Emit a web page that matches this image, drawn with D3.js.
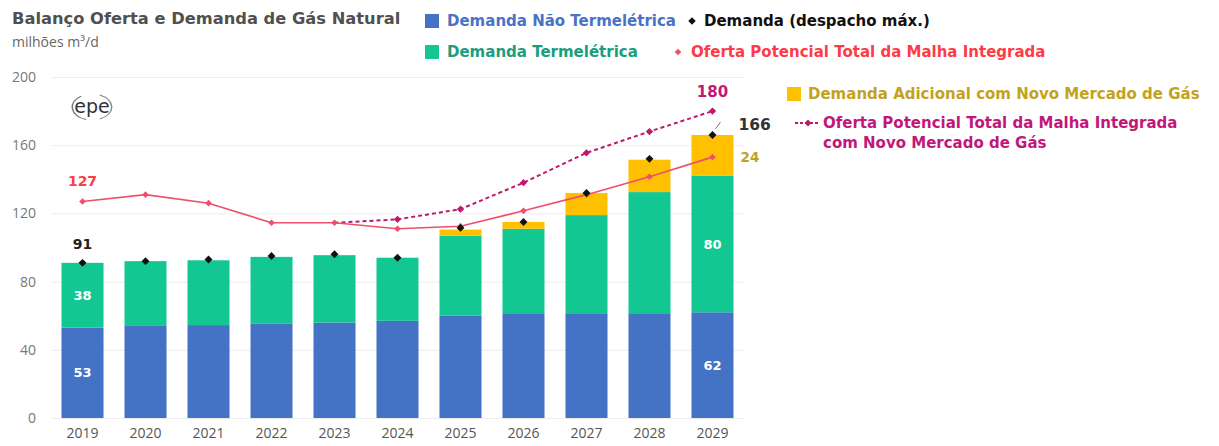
<!DOCTYPE html>
<html><head><meta charset="utf-8">
<script src="https://cdn.jsdelivr.net/npm/d3@7"></script>
<style>
html,body{margin:0;padding:0;background:#fff;}
svg{display:block;}
</style></head>
<body>
<svg id="chart" width="1219" height="446"></svg>
<script>
const years = ["2019","2020","2021","2022","2023","2024","2025","2026","2027","2028","2029"];
const naoTermeletrica = [53, 54, 54.5, 55.5, 56, 57, 60, 61, 61, 61, 62];
const termeletrica = [38, 38, 38, 39, 39.5, 37, 47, 50, 58, 71.5, 80];
const adicional = [0, 0, 0, 0, 0, 0, 3.5, 4, 13, 19, 24];
const demandaMax = [91, 92, 93, 95, 96, 94, 111.5, 115, 132, 152, 166];
const ofertaTotal = [127, 131, 126, 114.5, 114.5, 111, 112.5, 121.5, 131, 141.5, 153];
const ofertaNovoMercado = [null, null, null, null, 114.5, 116.5, 122.5, 138, 155.5, 168, 180];
const yTicks = [0, 40, 80, 120, 160, 200];

const C = {
  blue: "#4472c4", green: "#12c791", yellow: "#ffc000",
  red: "#ee4f6a", pink: "#c0186e", black: "#111",
  blueTxt: "#4a72c6", greenTxt: "#1a9e7c", redTxt: "#ff3b45",
  goldTxt: "#c4a21c", pinkTxt: "#c2177a", grey: "#555"
};
const boldFont = "'DejaVu Sans', Verdana, sans-serif";
const lightFont = "'Open Sans', 'DejaVu Sans', sans-serif";

const svg = d3.select("#chart");
const x = d3.scaleBand().domain(years).range([51, 744]).paddingInner(0.333).paddingOuter(0.1667);
const y = d3.scaleLinear().domain([0, 200]).range([418, 77]);
const cx = d => x(d) + x.bandwidth() / 2;

// gridlines
svg.append("g").selectAll("line").data(yTicks).join("line")
  .attr("x1", 52).attr("x2", 745)
  .attr("y1", d => y(d) + 0.5).attr("y2", d => y(d) + 0.5)
  .attr("stroke", "#ececec").attr("stroke-width", 1);

// y axis labels
const yAxis = svg.append("g").attr("transform", "translate(36,0)")
  .call(d3.axisLeft(y).tickValues(yTicks).tickSize(0).tickPadding(0));
yAxis.select(".domain").remove();
yAxis.selectAll("text").attr("font-family", lightFont).attr("font-size", 14).attr("fill", "#777");

// x axis labels
const xAxis = svg.append("g").attr("transform", "translate(0,428)")
  .call(d3.axisBottom(x).tickSize(0).tickPadding(0));
xAxis.select(".domain").remove();
xAxis.selectAll("text").attr("font-family", lightFont).attr("font-size", 14).attr("fill", "#555").attr("dy", "0.71em");

// stacked bars
const rows = years.map((yr, i) => ({year: yr, nao: naoTermeletrica[i], term: termeletrica[i], adic: adicional[i]}));
const stack = d3.stack().keys(["nao", "term", "adic"])(rows);
const colors = {nao: C.blue, term: C.green, adic: C.yellow};
svg.append("g").selectAll("g").data(stack).join("g")
  .attr("fill", s => colors[s.key])
  .selectAll("rect").data(s => s.filter(d => d[1] - d[0] > 0)).join("rect")
  .attr("x", d => x(d.data.year)).attr("width", x.bandwidth())
  .attr("y", d => y(d[1])).attr("height", d => y(d[0]) - y(d[1]));

// lines
const line = d3.line().defined(d => d.v != null).x(d => cx(d.year)).y(d => y(d.v));
const ofData = years.map((yr, i) => ({year: yr, v: ofertaTotal[i]}));
const onData = years.map((yr, i) => ({year: yr, v: ofertaNovoMercado[i]}));

svg.append("path").datum(onData).attr("d", line).attr("fill", "none")
  .attr("stroke", C.pink).attr("stroke-width", 2).attr("stroke-dasharray", "4,3");
svg.append("path").datum(ofData).attr("d", line).attr("fill", "none")
  .attr("stroke", C.red).attr("stroke-width", 1.6);

const dia = s => d3.symbol().type(d3.symbolDiamond2).size(s)();
svg.append("g").selectAll("path").data(onData.filter(d => d.v != null && d.year !== "2023")).join("path")
  .attr("d", dia(34)).attr("transform", d => `translate(${cx(d.year)},${y(d.v)})`)
  .attr("fill", C.pink);
svg.append("g").selectAll("path").data(ofData).join("path")
  .attr("d", dia(28)).attr("transform", d => `translate(${cx(d.year)},${y(d.v)})`)
  .attr("fill", C.red);

// demand diamonds
const dmData = years.map((yr, i) => ({year: yr, v: demandaMax[i]}));
svg.append("g").selectAll("path").data(dmData).join("path")
  .attr("d", dia(40)).attr("transform", d => `translate(${cx(d.year)},${y(d.v)})`)
  .attr("fill", C.black);

// value labels
const first = years[0], last = years[years.length - 1];
function label(txt, xx, yy, color, size, anchor) {
  svg.append("text").attr("x", xx).attr("y", yy).text(txt)
    .attr("font-family", boldFont).attr("font-weight", "bold").attr("font-size", size)
    .attr("fill", color).attr("text-anchor", anchor || "middle").attr("dominant-baseline", "central");
}
label(Math.round(ofertaTotal[0]), cx(first), y(ofertaTotal[0]) - 20, C.redTxt, 14);
label(Math.round(demandaMax[0]), cx(first), y(demandaMax[0]) - 19, "#222", 14);
label(Math.round(termeletrica[0]), cx(first), y(naoTermeletrica[0] + termeletrica[0] / 2), "#fff", 13);
label(Math.round(naoTermeletrica[0]), cx(first), y(naoTermeletrica[0] / 2), "#fff", 13);
const n = years.length - 1;
label(Math.round(termeletrica[n]), cx(last), y(naoTermeletrica[n] + termeletrica[n] / 2), "#fff", 13);
label(Math.round(naoTermeletrica[n]), cx(last), y(naoTermeletrica[n] / 2), "#fff", 13);
label(Math.round(ofertaNovoMercado[n]), cx(last), y(ofertaNovoMercado[n]) - 19, C.pinkTxt, 15);
label(Math.round(demandaMax[n]), x(last) + x.bandwidth() + 5, y(demandaMax[n]) - 10, "#333", 15.5, "start");
label(Math.round(adicional[n]), x(last) + x.bandwidth() + 7, y(demandaMax[n]) + 22, C.goldTxt, 13.5, "start");
svg.append("line").attr("x1", cx(last) + 3).attr("y1", y(demandaMax[n]) - 6)
  .attr("x2", cx(last) + 8).attr("y2", y(demandaMax[n]) - 13).attr("stroke", "#777").attr("stroke-width", 1);

// title
svg.append("text").attr("x", 12).attr("y", 24).text("Balanço Oferta e Demanda de Gás Natural")
  .attr("font-family", boldFont).attr("font-weight", "bold").attr("font-size", 16.3).attr("fill", "#505050");
svg.append("text").attr("x", 12).attr("y", 47).text("milhões m³/d")
  .attr("font-family", lightFont).attr("font-size", 14).attr("fill", "#666");

// epe logo
const logo = svg.append("g").attr("transform", "translate(92,107)");
logo.append("text").text("epe").attr("text-anchor", "middle").attr("dominant-baseline", "central")
  .attr("font-family", "'DejaVu Sans', sans-serif").attr("font-size", 19).attr("fill", "#333").attr("y", -1);
logo.append("path").attr("d", d3.arc()({innerRadius: 21, outerRadius: 22.5, startAngle: -Math.PI * 0.88, endAngle: -Math.PI * 0.2}))
  .attr("fill", "#777").attr("transform", "translate(2,0) scale(1,0.62)");
logo.append("path").attr("d", d3.arc()({innerRadius: 21, outerRadius: 22.5, startAngle: Math.PI * 0.15, endAngle: Math.PI * 0.85}))
  .attr("fill", "#888").attr("transform", "translate(-2,0) scale(1,0.62)");

// legend
const lg = svg.append("g").attr("font-family", boldFont).attr("font-weight", "bold").attr("font-size", 15);
function legText(txt, xx, yy, color) {
  lg.append("text").attr("x", xx).attr("y", yy).text(txt).attr("fill", color).attr("dominant-baseline", "central");
}
lg.append("rect").attr("x", 425).attr("y", 14).attr("width", 14).attr("height", 14).attr("fill", C.blue);
legText("Demanda Não Termelétrica", 447, 21, C.blueTxt);
lg.append("path").attr("d", dia(36)).attr("transform", "translate(692,21)").attr("fill", C.black);
legText("Demanda (despacho máx.)", 704, 21, "#111");
lg.append("rect").attr("x", 425).attr("y", 45).attr("width", 14).attr("height", 14).attr("fill", C.green);
legText("Demanda Termelétrica", 447, 52, C.greenTxt);
lg.append("path").attr("d", dia(28)).attr("transform", "translate(678,52)").attr("fill", C.red);
legText("Oferta Potencial Total da Malha Integrada", 691, 52, C.redTxt);
lg.append("rect").attr("x", 787).attr("y", 87).attr("width", 14).attr("height", 14).attr("fill", C.yellow);
legText("Demanda Adicional com Novo Mercado de Gás", 808, 94, C.goldTxt);
lg.append("line").attr("x1", 795).attr("x2", 820).attr("y1", 123).attr("y2", 123)
  .attr("stroke", C.pink).attr("stroke-width", 2).attr("stroke-dasharray", "3,2");
lg.append("path").attr("d", dia(30)).attr("transform", "translate(808,123)").attr("fill", C.pink);
legText("Oferta Potencial Total da Malha Integrada", 823, 123, C.pinkTxt);
legText("com Novo Mercado de Gás", 823, 143, C.pinkTxt);
</script>
</body></html>
